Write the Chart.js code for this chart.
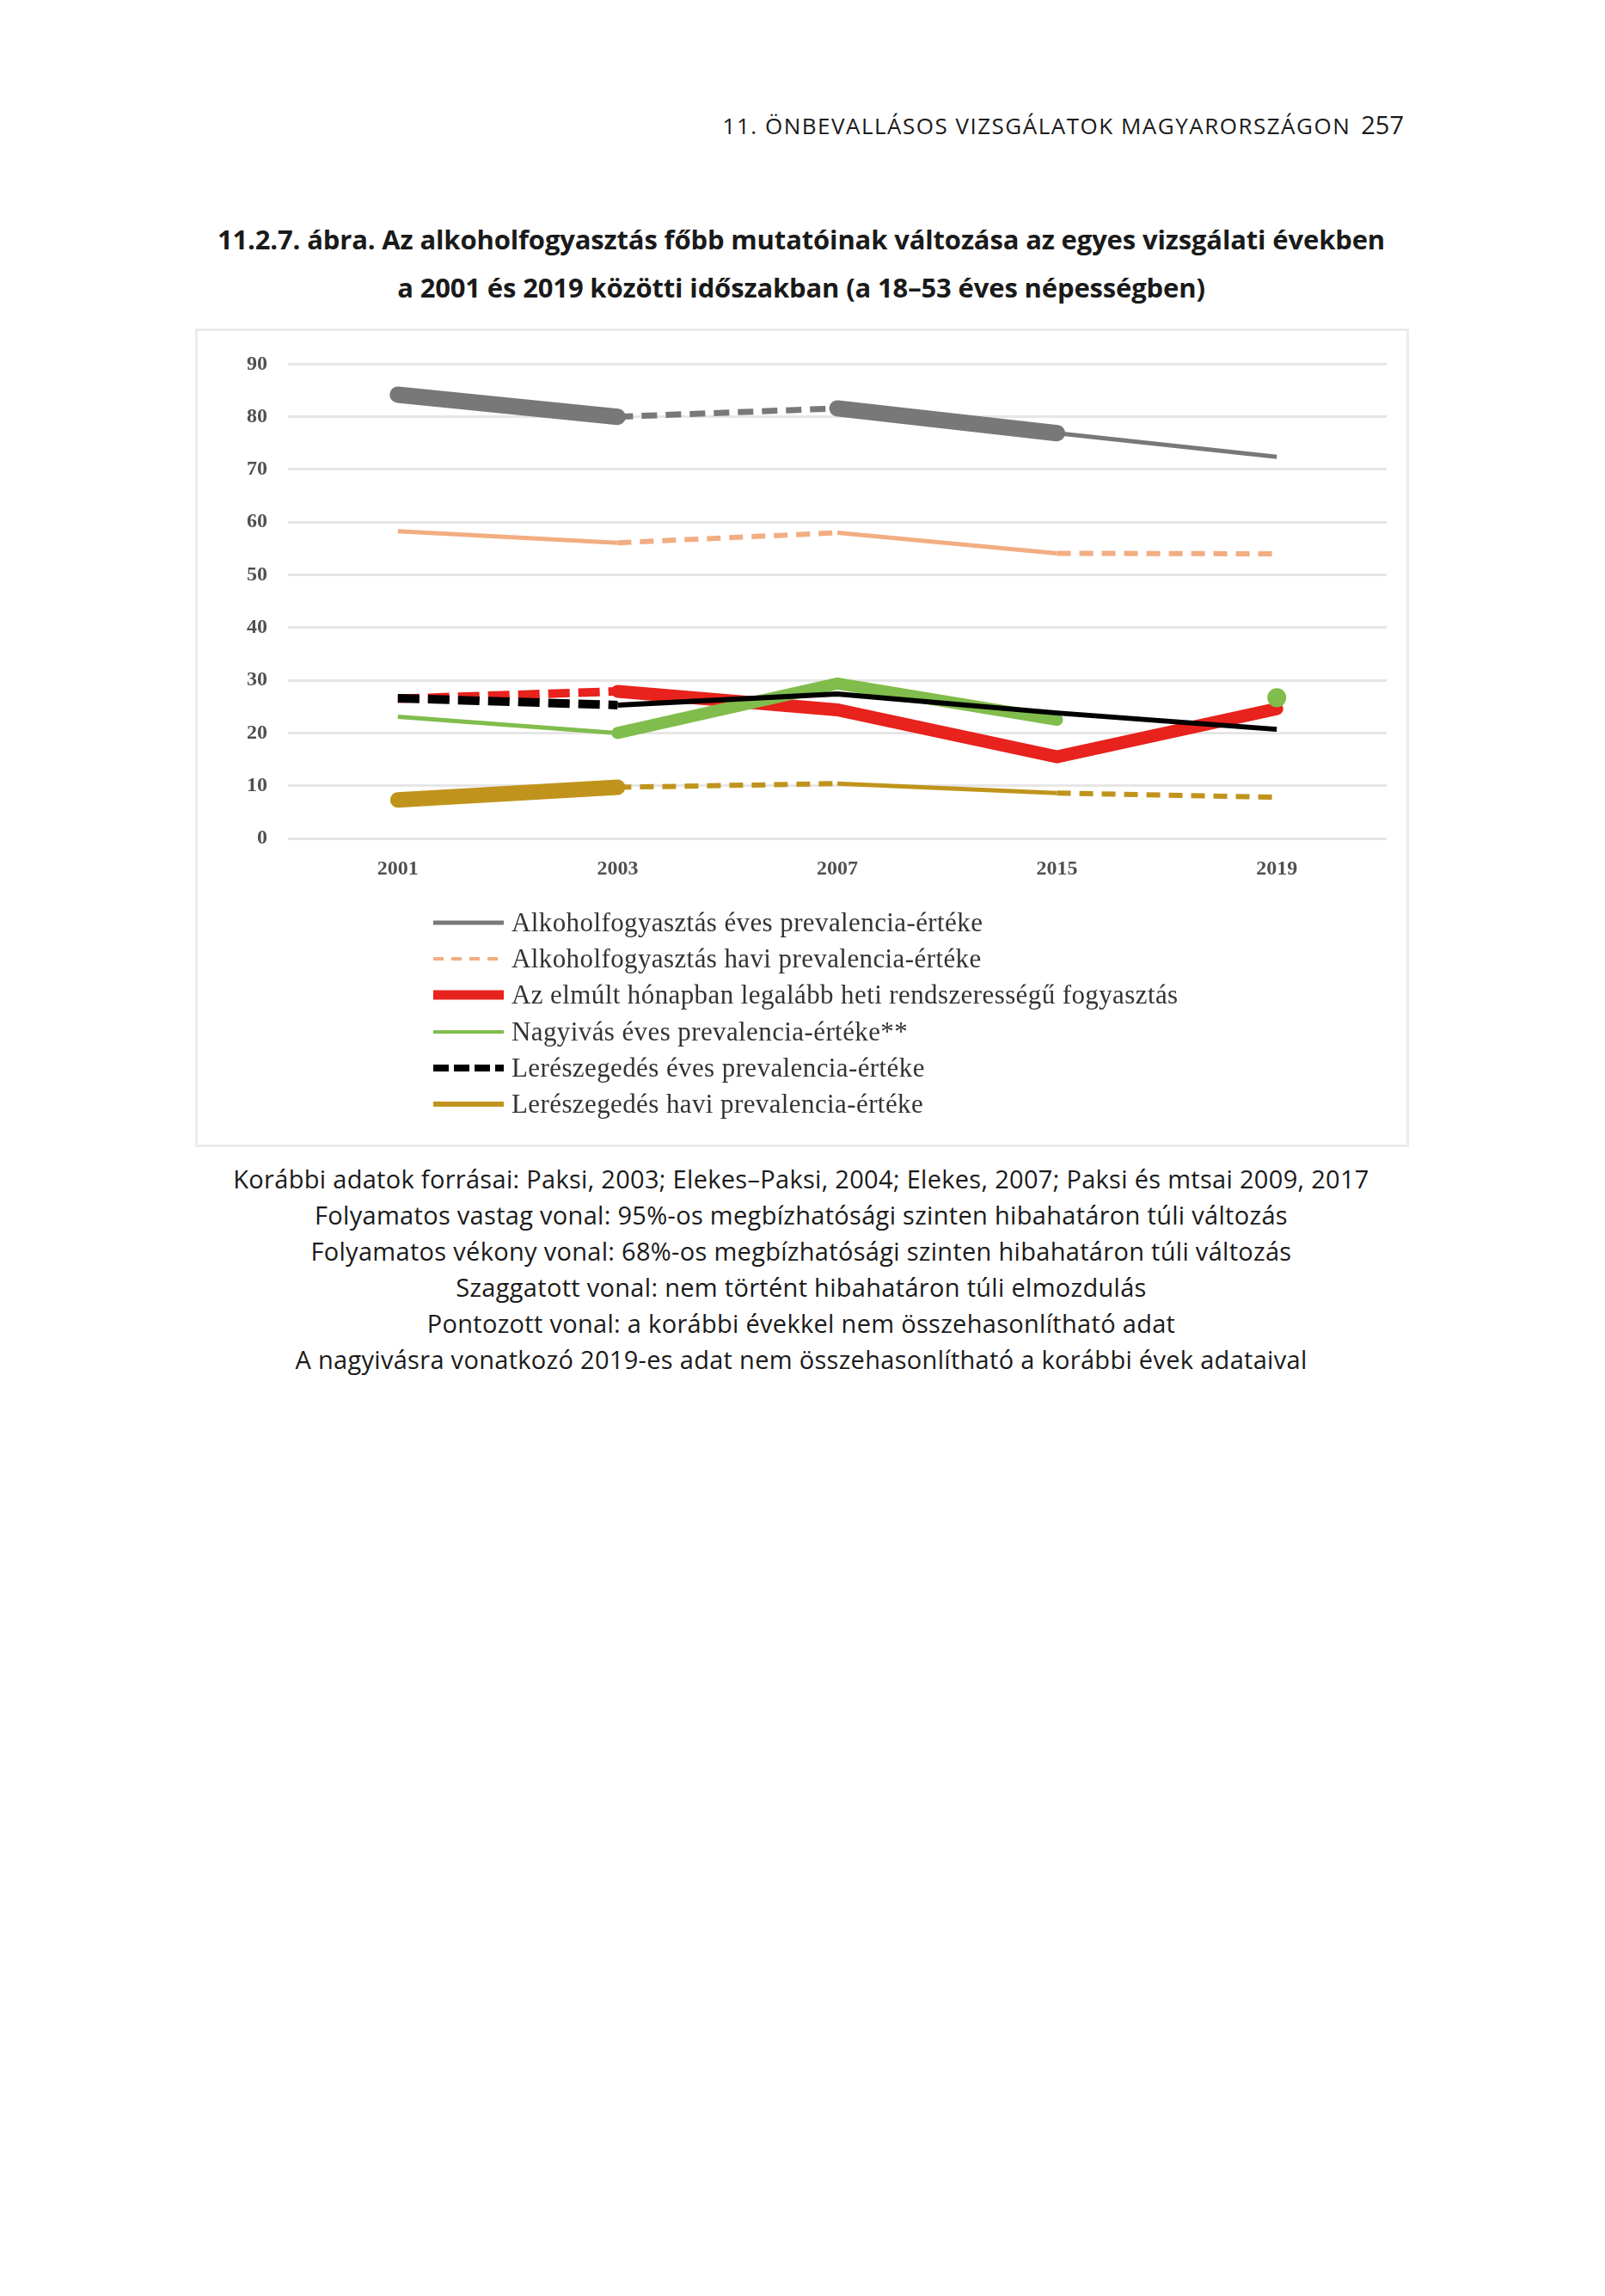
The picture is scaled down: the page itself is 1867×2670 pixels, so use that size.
<!DOCTYPE html>
<html lang="hu">
<head>
<meta charset="utf-8">
<script src="https://cdn.jsdelivr.net/npm/chart.js@4.4.1/dist/chart.umd.min.js"></script>
<style>
  body { margin: 0; background: #fff; width: 1867px; height: 2670px; position: relative; font-family: 'Open Sans', sans-serif; color: #1a1a1a; }
  .header { position: absolute; right: 234px; top: 128px; font-size: 26px; letter-spacing: 1.5px; line-height: 34px; white-space: nowrap; }
  .header .page { font-size: 29px; margin-left: 12px; letter-spacing: 0; }
  .title { position: absolute; left: 227px; width: 1410px; top: 250px; text-align: center; font-weight: 700; font-size: 31px; line-height: 56px; letter-spacing: -0.15px; }
  .box { position: absolute; left: 227px; top: 382px; width: 1406px; height: 946px; border: 3px solid #ececec; }
  .chart-wrap { position: absolute; left: 0; top: 0; width: 1402px; height: 680px; }
  .legend { position: absolute; left: 274px; top: 667px; font-family: 'Liberation Serif', serif; font-size: 31px; letter-spacing: 0.4px; color: #333; }
  .legend-item { display: flex; align-items: center; height: 42.2px; white-space: nowrap; }
  .legend-item svg { margin-right: 9px; }
  .notes { position: absolute; left: 227px; width: 1410px; top: 1350px; text-align: center; font-size: 29px; line-height: 42px; letter-spacing: 0.3px; }
</style>
</head>
<body>
<div class="header">11. ÖNBEVALLÁSOS VIZSGÁLATOK MAGYARORSZÁGON<span class="page">257</span></div>
<div class="title">11.2.7. ábra. Az alkoholfogyasztás főbb mutatóinak változása az egyes vizsgálati években<br>a 2001 és 2019 közötti időszakban (a 18–53 éves népességben)</div>
<div class="box">
  <div class="chart-wrap"><canvas id="trendChart"></canvas></div>
  <div class="legend" id="legend"></div>
</div>
<div class="notes">
  Korábbi adatok forrásai: Paksi, 2003; Elekes–Paksi, 2004; Elekes, 2007; Paksi és mtsai 2009, 2017<br>
  Folyamatos vastag vonal: 95%-os megbízhatósági szinten hibahatáron túli változás<br>
  Folyamatos vékony vonal: 68%-os megbízhatósági szinten hibahatáron túli változás<br>
  Szaggatott vonal: nem történt hibahatáron túli elmozdulás<br>
  Pontozott vonal: a korábbi évekkel nem összehasonlítható adat<br>
  A nagyivásra vonatkozó 2019-es adat nem összehasonlítható a korábbi évek adataival
</div>
<script>
const years = ['2001', '2003', '2007', '2015', '2019'];
const yTicks = [0, 10, 20, 30, 40, 50, 60, 70, 80, 90];

const labels = [
  'Alkoholfogyasztás éves prevalencia-értéke',
  'Alkoholfogyasztás havi prevalencia-értéke',
  'Az elmúlt hónapban legalább heti rendszerességű fogyasztás',
  'Nagyivás éves prevalencia-értéke**',
  'Lerészegedés éves prevalencia-értéke',
  'Lerészegedés havi prevalencia-értéke'
];

const alcAnnual = [84.2, 80.0, 81.6, 76.9, 72.4];
const alcMonthly = [58.3, 56.1, 58.0, 54.1, 54.0];
const weeklyRegular = [26.5, 27.9, 24.4, 15.5, 24.6];
const bingeAnnual = [23.1, 20.0, 29.4, 22.5, 26.7];
const drunkAnnual = [26.6, 25.3, 27.4, 23.8, 20.7];
const drunkMonthly = [7.3, 9.7, 10.4, 8.6, 7.8];

// significance of change between consecutive survey years
const alcAnnualSeg = ['thick', 'dash', 'thick', 'thin'];
const alcMonthlySeg = ['thin', 'dash', 'thin', 'dash'];
const weeklyRegularSeg = ['dash', 'thick', 'thick', 'thick'];
const bingeAnnualSeg = ['thin', 'thick', 'thick', 'none'];
const drunkAnnualSeg = ['dash', 'thin', 'thin', 'thin'];
const drunkMonthlySeg = ['thick', 'dash', 'thin', 'dash'];

const series = [
  { data: alcAnnual, seg: alcAnnualSeg, color: '#787878', thick: 19, thin: 5, dash: 7, pattern: [18, 10], order: 6, legend: { w: 5, dash: null } },
  { data: alcMonthly, seg: alcMonthlySeg, color: '#f2ad82', thick: 12, thin: 5, dash: 6, pattern: [16, 10], order: 5, legend: { w: 4, dash: '12 9' } },
  { data: weeklyRegular, seg: weeklyRegularSeg, color: '#e8221c', thick: 15, thin: 5, dash: 10, pattern: [25, 10], order: 3, legend: { w: 11, dash: null } },
  { data: bingeAnnual, seg: bingeAnnualSeg, color: '#80bd4c', thick: 14, thin: 5, dash: 6, pattern: [16, 10], order: 2, dot: 4, legend: { w: 4, dash: null } },
  { data: drunkAnnual, seg: drunkAnnualSeg, color: '#000000', thick: 12, thin: 6, dash: 10, pattern: [25, 10], order: 1, legend: { w: 8, dash: '18 6' } },
  { data: drunkMonthly, seg: drunkMonthlySeg, color: '#c0941c', thick: 18, thin: 5, dash: 6, pattern: [16, 10], order: 4, legend: { w: 6, dash: null } }
];

function segWidth(s, kind) {
  if (kind === 'thick') return s.thick;
  if (kind === 'dash') return s.dash;
  if (kind === 'none') return 0;
  return s.thin;
}

const datasets = series.map((s, i) => ({
  label: labels[i],
  data: s.data,
  order: s.order,
  borderColor: s.color,
  backgroundColor: s.color,
  borderWidth: s.thin,
  tension: 0,
  fill: false,
  pointRadius: c => (s.dot === c.dataIndex ? 11 : 0),
  pointHoverRadius: 0,
  pointBorderWidth: 0,
  pointBackgroundColor: s.color,
  segment: {
    borderWidth: c => segWidth(s, s.seg[c.p0DataIndex]),
    borderDash: c => (s.seg[c.p0DataIndex] === 'dash' ? s.pattern : []),
    borderColor: c => (s.seg[c.p0DataIndex] === 'none' ? 'rgba(0,0,0,0)' : s.color),
    borderCapStyle: c => (s.seg[c.p0DataIndex] === 'thick' ? 'round' : 'butt')
  }
}));

const tickFont = { family: "'Liberation Serif', serif", size: 24, weight: 'bold' };

new Chart(document.getElementById('trendChart'), {
  type: 'line',
  data: { labels: years, datasets },
  options: {
    responsive: true,
    maintainAspectRatio: false,
    animation: false,
    devicePixelRatio: 1,
    layout: { padding: { left: 0, right: 19, top: 29, bottom: 0 } },
    plugins: { legend: { display: false }, tooltip: { enabled: false } },
    scales: {
      x: {
        offset: true,
        grid: { display: false, drawTicks: false },
        border: { display: false },
        ticks: { font: tickFont, color: '#505050', padding: 21 },
        afterFit: s => { s.height = 90; }
      },
      y: {
        min: 0,
        max: 90,
        afterBuildTicks: s => { s.ticks = yTicks.map(v => ({ value: v })); },
        grid: { color: '#e6e6e6', lineWidth: 3, drawTicks: false },
        border: { display: false },
        ticks: { font: tickFont, color: '#505050', padding: 24 },
        afterFit: s => { s.width = 105; }
      }
    }
  }
});

// legend below the plot, one entry per row
const legendEl = document.getElementById('legend');
series.forEach((s, i) => {
  const dash = s.legend.dash ? ` stroke-dasharray="${s.legend.dash}"` : '';
  const item = document.createElement('div');
  item.className = 'legend-item';
  item.innerHTML = `<svg width="82" height="20"><line x1="0" y1="10" x2="82" y2="10" stroke="${s.color}" stroke-width="${s.legend.w}"${dash}/></svg><span>${labels[i]}</span>`;
  legendEl.appendChild(item);
});
</script>
</body>
</html>
